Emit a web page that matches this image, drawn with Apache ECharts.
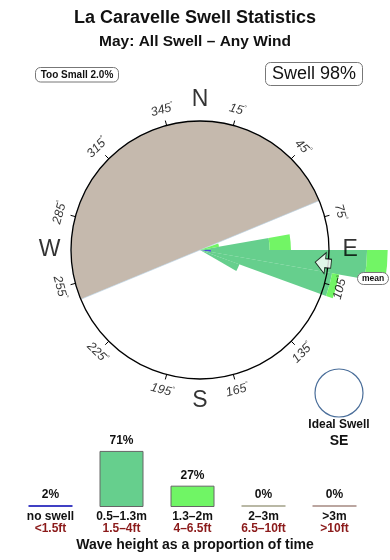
<!DOCTYPE html>
<html><head><meta charset="utf-8">
<script src="https://cdn.jsdelivr.net/npm/echarts@6/dist/echarts.min.js"></script>
<style>html,body{margin:0;padding:0;background:#fff}#c{width:390px;height:560px}</style>
</head><body><div id="c"></div>
<script>
// ---------------- data ----------------
// swell rose: direction bins (start bearing, 10° wide) and stacked radii (circle = 100)
const roseDirections = [70, 80, 90, 100, 110];
const roseNoSwell    = [0, 0, 8.5, 0, 0];
const roseMid        = [0, 54, 121, 104, 32.5];   // 0.5–1.3m
const roseBig        = [15, 16.5, 16, 5.5, 0];    // 1.3–2m
// land shadow (bearing from, span in degrees)
const shadowFrom = 247.5;
const shadowSpan = [180, 180];
// mean direction
const meanBearing = 96;
// compass
const degreeTicks = [15, 45, 75, 105, 135, 165, 195, 225, 255, 285, 315, 345];
const compassLetters = ['N', 'E', 'S', 'W'];
const compassBearings = [360, 90, 180, 270];
// wave height distribution
const heightMetres = ['no swell', '0.5–1.3m', '1.3–2m', '2–3m', '>3m'];
const heightFeet   = ['<1.5ft', '1.5–4ft', '4–6.5ft', '6.5–10ft', '>10ft'];
const heightShare  = [2, 71, 27, 0, 0];
const heightColors = ['#4040c4', '#66cf8d', '#70f565', '#b9b8a5', '#bba6a0'];

// ---------------- build ----------------
const FONT = '"Liberation Sans", Arial, Helvetica, sans-serif';
const bins = [];
for (let b = 0; b < 360; b += 10) bins.push(String(b));
function binArray(vals) {
  const a = new Array(36).fill(0);
  roseDirections.forEach((d, i) => { a[d / 10] = vals[i]; });
  return a;
}
const CENTER = [200, 250];
const R = 129;

const chart = echarts.init(document.getElementById('c'), null, {renderer: 'canvas'});

const degLabelData = degreeTicks.map(b => {
  const rot = (b < 90 || b > 270) ? -b : 180 - b;
  return {value: [112.5, b], name: String(b), label: {rotate: rot}};
});
const letterData = compassLetters.map((l, i) => ({value: [116.5, compassBearings[i]], name: l}));

const option = {
  animation: false,
  backgroundColor: '#fff',
  textStyle: {fontFamily: FONT},
  polar: [
    {center: CENTER, radius: R},
    {center: CENTER, radius: R}
  ],
  angleAxis: [
    {polarIndex: 0, type: 'category', data: bins, startAngle: 90, clockwise: true, boundaryGap: true, show: false},
    {polarIndex: 1, type: 'value', min: 15, max: 375, interval: 30, startAngle: 75, clockwise: true, z: 3,
     axisLine: {show: true, lineStyle: {color: '#000', width: 1.3}},
     axisTick: {show: true, length: 5, lineStyle: {color: '#000', width: 1}},
     axisLabel: {show: false}, splitLine: {show: false}}
  ],
  radiusAxis: [
    {polarIndex: 0, type: 'value', min: 0, max: 100, show: false},
    {polarIndex: 1, type: 'value', min: 0, max: 100, show: false}
  ],
  grid: {left: 15, width: 355, top: 428, height: 79},
  xAxis: {
    type: 'category', data: heightMetres,
    axisLine: {show: false}, axisTick: {show: false},
    axisLabel: {
      margin: 4, interval: 0,
      formatter: (v, i) => '{a|' + v + '}\n{b|' + heightFeet[i] + '}',
      rich: {
        a: {fontFamily: FONT, fontWeight: 'bold', fontSize: 12, color: '#111', lineHeight: 12},
        b: {fontFamily: FONT, fontWeight: 'bold', fontSize: 12, color: '#8b1a1a', lineHeight: 12}
      }
    }
  },
  yAxis: {type: 'value', min: 0, max: 100, show: false},
  series: [
    {
      type: 'pie', silent: true, z: 1, center: CENTER, radius: [0, R],
      startAngle: 90 - shadowFrom + 360, clockwise: true,
      label: {show: false}, labelLine: {show: false},
      itemStyle: {borderWidth: 0},
      emphasis: {disabled: true},
      data: [
        {value: shadowSpan[0], itemStyle: {color: '#c5b9ad', borderColor: '#b8d4e8', borderWidth: 0.6}},
        {value: shadowSpan[1], itemStyle: {color: 'rgba(0,0,0,0)'}}
      ]
    },
    {type: 'bar', coordinateSystem: 'polar', polarIndex: 0, stack: 'rose', barCategoryGap: '0%', clip: false, z: 2,
     itemStyle: {color: '#4a4ad8'}, data: binArray(roseNoSwell)},
    {type: 'bar', coordinateSystem: 'polar', polarIndex: 0, stack: 'rose', barCategoryGap: '0%', clip: false, z: 2,
     itemStyle: {color: '#66cf8d'}, data: binArray(roseMid)},
    {type: 'bar', coordinateSystem: 'polar', polarIndex: 0, stack: 'rose', barCategoryGap: '0%', clip: false, z: 2,
     itemStyle: {color: '#72f565'}, data: binArray(roseBig)},
    {
      type: 'scatter', coordinateSystem: 'polar', polarIndex: 1, z: 6, silent: true, clip: false,
      symbol: 'path://M10.5,0 L21,10 L15,10 L15,16 L6,16 L6,10 L0,10 Z',
      symbolSize: [21, 16], symbolRotate: 180 - meanBearing, symbolKeepAspect: false,
      itemStyle: {color: '#fff', borderColor: '#000', borderWidth: 1},
      data: [[96, meanBearing]]
    },
    {
      type: 'scatter', coordinateSystem: 'polar', polarIndex: 1, z: 6, silent: true, clip: false,
      symbolSize: 1, itemStyle: {color: 'rgba(0,0,0,0)'}, data: degLabelData,
      label: {
        show: true, position: 'inside',
        formatter: p => '{n|' + p.name + '}{d|°}',
        rich: {
          n: {fontFamily: FONT, fontStyle: 'italic', fontSize: 12.5, color: '#000'},
          d: {fontFamily: FONT, fontSize: 7, color: '#000', verticalAlign: 'top', padding: [0, 0, 7, 0]}
        }
      }
    },
    {
      type: 'scatter', coordinateSystem: 'polar', polarIndex: 1, z: 6, silent: true, clip: false,
      symbolSize: 1, itemStyle: {color: 'rgba(0,0,0,0)'}, data: letterData,
      label: {show: true, position: 'inside', formatter: '{b}', fontFamily: FONT, fontSize: 23, color: '#000'}
    },
    {
      type: 'bar', xAxisIndex: 0, yAxisIndex: 0, barWidth: 44, barMinHeight: 2,
      data: heightShare.map((v, i) => ({
        value: v,
        itemStyle: {color: heightColors[i],
          borderColor: (i === 1 || i === 2) ? '#666' : heightColors[i],
          borderWidth: (i === 1 || i === 2) ? 1 : 0}
      })),
      label: {show: true, position: 'top', distance: 4, formatter: '{c}%',
        fontFamily: FONT, fontWeight: 'bold', fontSize: 12, color: '#111'}
    }
  ],
  graphic: [
    {type: 'text', left: 'center', top: 9, style: {text: 'La Caravelle Swell Statistics', font: 'bold 18px ' + FONT, fill: '#111'}},
    {type: 'text', left: 'center', top: 34, style: {text: 'May: All Swell – Any Wind', font: 'bold 15.5px ' + FONT, fill: '#111'}},
    {type: 'rect', shape: {x: 35.5, y: 67.5, width: 83, height: 14.5, r: 5}, style: {fill: '#fff', stroke: '#777', lineWidth: 1}},
    {type: 'text', x: 77, y: 75, style: {text: 'Too Small 2.0%', font: 'bold 10px ' + FONT, fill: '#111', align: 'center', verticalAlign: 'middle'}},
    {type: 'rect', shape: {x: 265.5, y: 62.5, width: 97, height: 23, r: 5}, style: {fill: '#fff', stroke: '#777', lineWidth: 1}},
    {type: 'text', x: 314, y: 74.5, style: {text: 'Swell 98%', font: '18px ' + FONT, fill: '#111', align: 'center', verticalAlign: 'middle'}},
    {type: 'rect', z: 100, shape: {x: 357.5, y: 272.5, width: 31, height: 12, r: 6}, style: {fill: '#fff', stroke: '#777', lineWidth: 1}},
    {type: 'text', z: 101, x: 373, y: 279, style: {text: 'mean', font: 'bold 8.5px ' + FONT, fill: '#111', align: 'center', verticalAlign: 'middle'}},
    {type: 'circle', shape: {cx: 339, cy: 393, r: 24}, style: {fill: 'none', stroke: '#4a6e9a', lineWidth: 1.2}},
    {type: 'text', x: 339, y: 425, style: {text: 'Ideal Swell', font: 'bold 12px ' + FONT, fill: '#111', align: 'center', verticalAlign: 'middle'}},
    {type: 'text', x: 339, y: 441, style: {text: 'SE', font: 'bold 14px ' + FONT, fill: '#111', align: 'center', verticalAlign: 'middle'}},
    {type: 'text', x: 195, y: 545, style: {text: 'Wave height as a proportion of time', font: 'bold 14px ' + FONT, fill: '#111', align: 'center', verticalAlign: 'middle'}}
  ]
};
chart.setOption(option);
</script>
</body></html>
